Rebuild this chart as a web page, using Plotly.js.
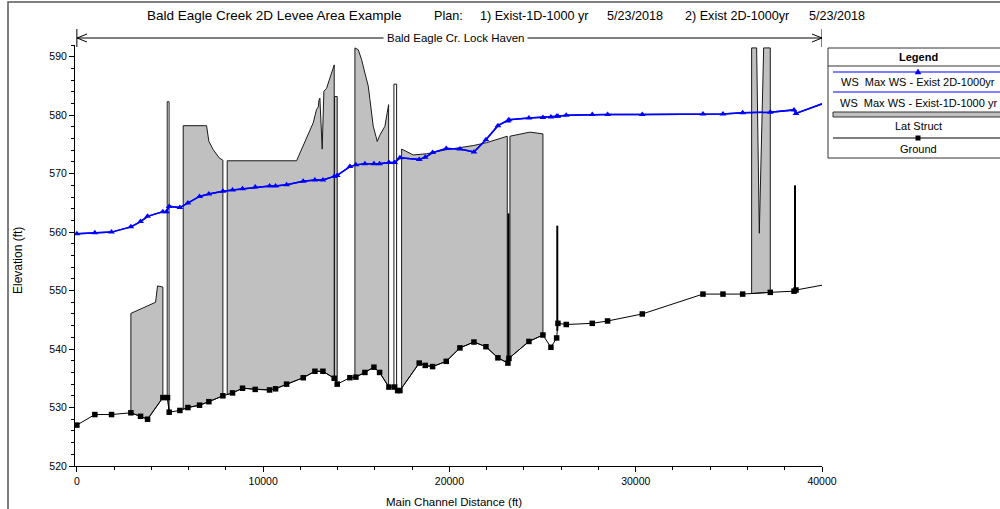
<!DOCTYPE html>
<html>
<head>
<meta charset="utf-8">
<script src="https://cdn.plot.ly/plotly-3.0.1.min.js"></script>
<style>html,body{margin:0;padding:0;background:#fff;}#chart{width:1000px;height:509px;}</style>
</head>
<body>
<div id="chart"></div>
<script>
// ---------------- data ----------------
const groundX = [0, 966, 1862, 2900, 3420, 3795, 4617, 4867, 4957, 5530, 5960, 6586, 7087, 7839, 8357, 8894, 9574, 10344, 10667, 11257, 12152, 12778, 13208, 13815, 13976, 14657, 14979, 15462, 15946, 16250, 16751, 17057, 17218, 17342, 18378, 18700, 19097, 19828, 20563, 21315, 21959, 22603, 23140, 23194, 24267, 25019, 25449, 25755, 25825, 26271, 27667, 28490, 30353, 33610, 34684, 35741, 37224, 38497, 38604, 41000];
const groundY = [527.0, 528.8, 528.8, 529.1, 528.5, 528.0, 531.7, 531.7, 529.2, 529.5, 530.0, 530.4, 531.0, 532.0, 532.5, 533.3, 533.1, 533.0, 533.2, 534.0, 535.1, 536.2, 536.2, 535.0, 534.0, 535.1, 535.2, 536.0, 536.9, 536.0, 533.5, 533.5, 532.9, 532.9, 537.6, 537.2, 537.0, 537.9, 540.2, 541.2, 540.4, 538.5, 537.6, 538.4, 541.3, 542.4, 540.3, 541.9, 544.4, 544.2, 544.4, 544.8, 546.0, 549.4, 549.4, 549.4, 549.7, 549.9, 550.1, 551.5];

const wsX = [0, 966, 1862, 2900, 3420, 3795, 4617, 4814, 4957, 5530, 5960, 6586, 7087, 7839, 8357, 8894, 9574, 10344, 10667, 11257, 12152, 12778, 13208, 13815, 13976, 14657, 14979, 15462, 15946, 16250, 16751, 17057, 17342, 18378, 18700, 19097, 19828, 20563, 21315, 21959, 22603, 23140, 23194, 24267, 25019, 25449, 25755, 25825, 26271, 27667, 28490, 30353, 33610, 34684, 35741, 37224, 38497, 38604, 41000];
const ws2dY = [559.7, 559.9, 560.0, 560.9, 561.8, 562.7, 563.5, 563.5, 564.4, 564.2, 565.0, 566.1, 566.5, 567.0, 567.2, 567.4, 567.7, 567.9, 567.9, 568.1, 568.7, 568.9, 568.9, 569.5, 569.7, 571.2, 571.5, 571.7, 571.7, 571.7, 571.9, 571.9, 572.7, 572.4, 572.8, 573.6, 574.3, 574.2, 573.7, 575.8, 578.2, 579.0, 579.2, 579.5, 579.6, 579.7, 579.8, 579.8, 580.0, 580.1, 580.1, 580.1, 580.2, 580.2, 580.4, 580.5, 580.9, 580.3, 583.1];
const ws1dY = ws2dY.slice();

// lateral structure top profiles
const lat1X = [2900, 4224, 4331, 4617];
const lat1Y = [546.1, 548.0, 550.8, 550.6];
const lat2X = [4850, 4950];
const lat2Y = [582.3, 582.3];
const lat3X = [5709, 6962, 7087, 7320, 7640, 7839];
const lat3Y = [578.2, 578.2, 575.5, 574.1, 572.7, 572.3];
const lat4X = [8070, 11794, 11973, 12331, 12689, 12868, 12960, 13000, 13046, 13170, 13261, 13406, 13583, 13798, 13815];
const lat4Y = [572.2, 572.2, 573.5, 576.4, 578.7, 581.0, 581.4, 582.6, 582.9, 574.2, 584.1, 584.6, 586.4, 588.6, 588.6];
const lat5X = [13830, 13976];
const lat5Y = [583.2, 583.2];
const lat6X = [14926, 15103, 15286, 15463, 15640, 15731, 15909, 16054, 16123, 16268, 16537, 16660, 16735];
const lat6Y = [591.5, 591.2, 589.5, 587.2, 585.0, 582.7, 578.1, 576.4, 575.5, 576.6, 578.1, 580.4, 581.8];
const lat7X = [17020, 17165];
const lat7Y = [585.3, 585.3];
const lat8X = [17433, 18056, 18775, 19848, 20563, 21279, 21998, 23104];
const lat8Y = [574.2, 573.2, 573.4, 574.1, 574.4, 574.8, 575.3, 576.4];
const lat9X = [23248, 24320, 25019];
const lat9Y = [576.4, 577.1, 576.8];
const lat10X = [36223, 36491, 36634, 36868, 37224];
const lat10Y = [591.5, 591.5, 559.8, 591.5, 591.5];
// zero-width lateral structures (vertical lines)
const latLineX = [23170, 25790, 38550];
const latLineTop = [563.2, 561.1, 568.0];

const xTicks = [0, 10000, 20000, 30000, 40000];
const yTicks = [520, 530, 540, 550, 560, 570, 580, 590];

const titleParts = ["Bald Eagle Creek 2D Levee Area Example", "Plan:", "1) Exist-1D-1000 yr", "5/23/2018", "2) Exist 2D-1000yr", "5/23/2018"];
const reachLabel = "Bald Eagle Cr. Lock Haven";
const legendLabels = ["WS  Max WS - Exist 2D-1000yr", "WS  Max WS - Exist-1D-1000 yr", "Lat Struct", "Ground"];

// ---------------- helpers ----------------
function gAt(x) {
  for (let i = 0; i < groundX.length - 1; i++) {
    if (x >= groundX[i] && x <= groundX[i + 1]) {
      const t = (x - groundX[i]) / (groundX[i + 1] - groundX[i]);
      return groundY[i] + t * (groundY[i + 1] - groundY[i]);
    }
  }
  return groundY[groundY.length - 1];
}
function poly(tx, ty) {
  const x0 = tx[0], x1 = tx[tx.length - 1];
  const xs = [x0].concat(tx, [x1]);
  const ys = [gAt(x0)].concat(ty, [gAt(x1)]);
  for (let i = groundX.length - 1; i >= 0; i--) {
    if (groundX[i] < x1 && groundX[i] > x0) { xs.push(groundX[i]); ys.push(groundY[i]); }
  }
  xs.push(x0); ys.push(gAt(x0));
  return {x: xs, y: ys};
}

const FONT = "Liberation Sans, Arial, sans-serif";
const L = 75, R = 178, T = 45, B = 43;
const PW = 1000 - L - R, PH = 509 - T - B;
const X = px => (px - L) / PW;
const Y = py => (509 - B - py) / PH;

const traces = [];
const lats = [[lat1X, lat1Y, '#c0c0c0'], [lat2X, lat2Y, '#ffffff'], [lat3X, lat3Y, '#c0c0c0'], [lat4X, lat4Y, '#c0c0c0'],
  [lat5X, lat5Y, '#c0c0c0'], [lat6X, lat6Y, '#c0c0c0'], [lat7X, lat7Y, '#ffffff'], [lat8X, lat8Y, '#c0c0c0'],
  [lat9X, lat9Y, '#c0c0c0'], [lat10X, lat10Y, '#c0c0c0']];
lats.forEach(([tx, ty, fc]) => {
  const p = poly(tx, ty);
  traces.push({type: 'scatter', mode: 'lines', x: p.x, y: p.y, fill: 'toself', fillcolor: fc,
    line: {color: '#1a1a1a', width: 1}, hoverinfo: 'skip', showlegend: false});
});
latLineX.forEach((lx, i) => {
  traces.push({type: 'scatter', mode: 'lines', x: [lx, lx], y: [gAt(lx), latLineTop[i]],
    line: {color: '#000', width: 2}, hoverinfo: 'skip', showlegend: false});
});
traces.push({type: 'scatter', mode: 'lines+markers', x: groundX, y: groundY, name: 'Ground',
  line: {color: '#000', width: 1}, marker: {symbol: 'square', size: 5.5, color: '#000'}, showlegend: false});
traces.push({type: 'scatter', mode: 'lines', x: wsX, y: ws1dY, name: legendLabels[1],
  line: {color: '#0000ff', width: 1.5}, showlegend: false});
traces.push({type: 'scatter', mode: 'lines+markers', x: wsX, y: ws2dY, name: legendLabels[0],
  line: {color: '#0000ff', width: 1.5}, marker: {symbol: 'triangle-up', size: 6, color: '#0000ff'}, showlegend: false});

// ---------------- annotations & shapes ----------------
const ann = [];
const shapes = [];
const titleLeft = [145, 432, 478, 605, 683, 807];
titleParts.forEach((t, i) => ann.push({text: t, xref: 'paper', yref: 'paper', x: X(titleLeft[i]), y: Y(16),
  xanchor: 'left', yanchor: 'middle', showarrow: false, font: {family: FONT, size: i === 0 ? 13.5 : 12.6, color: '#000'}}));

// reach arrow
const ay = Y(38);
shapes.push({type: 'line', xref: 'x', yref: 'paper', x0: 0, x1: 40000, y0: ay, y1: ay, line: {color: '#000', width: 1}});
shapes.push({type: 'line', xref: 'x', yref: 'paper', x0: 0, x1: 0, y0: Y(29), y1: Y(47), line: {color: '#000', width: 1}});
shapes.push({type: 'line', xref: 'x', yref: 'paper', x0: 40000, x1: 40000, y0: Y(29), y1: Y(47), line: {color: '#000', width: 1}});
shapes.push({type: 'path', xref: 'paper', yref: 'paper',
  path: `M ${X(87)} ${Y(34)} L ${X(77)} ${Y(38)} L ${X(87)} ${Y(42)}`, line: {color: '#000', width: 1}});
shapes.push({type: 'path', xref: 'paper', yref: 'paper',
  path: `M ${X(812)} ${Y(34)} L ${X(822)} ${Y(38)} L ${X(812)} ${Y(42)}`, line: {color: '#000', width: 1}});
ann.push({text: reachLabel, xref: 'paper', yref: 'paper', x: X(455), y: ay, xanchor: 'center', yanchor: 'middle',
  showarrow: false, bgcolor: '#fff', borderpad: 3, font: {family: FONT, size: 11.5, color: '#000'}});

// axis titles
ann.push({text: 'Main Channel Distance (ft)', xref: 'paper', yref: 'paper', x: X(454), y: Y(502), xanchor: 'center', yanchor: 'middle',
  showarrow: false, font: {family: FONT, size: 11.5, color: '#000'}});
ann.push({text: 'Elevation (ft)', xref: 'paper', yref: 'paper', x: X(18), y: Y(260), xanchor: 'center', yanchor: 'middle',
  textangle: -90, showarrow: false, font: {family: FONT, size: 12, color: '#000'}});

// outer frame
shapes.push({type: 'rect', xref: 'paper', yref: 'paper', x0: X(8), x1: X(1010), y0: Y(2), y1: Y(520),
  line: {color: '#555', width: 1.5}, layer: 'below'});

// legend box
shapes.push({type: 'rect', xref: 'paper', yref: 'paper', x0: X(828), x1: X(1010), y0: Y(48), y1: Y(158),
  line: {color: '#333', width: 1}, fillcolor: '#fff'});
shapes.push({type: 'line', xref: 'paper', yref: 'paper', x0: X(828), x1: X(1010), y0: Y(66), y1: Y(66), line: {color: '#333', width: 1}});
shapes.push({type: 'line', xref: 'paper', yref: 'paper', x0: X(833), x1: X(1010), y0: Y(72), y1: Y(72), line: {color: '#0000ff', width: 1.2}});
shapes.push({type: 'path', xref: 'paper', yref: 'paper', path: `M ${X(915)} ${Y(74)} L ${X(918)} ${Y(69)} L ${X(921)} ${Y(74)} Z`,
  fillcolor: '#0000ff', line: {color: '#0000ff', width: 0.5}});
shapes.push({type: 'line', xref: 'paper', yref: 'paper', x0: X(833), x1: X(1010), y0: Y(92), y1: Y(92), line: {color: '#0000ff', width: 1.2}});
shapes.push({type: 'rect', xref: 'paper', yref: 'paper', x0: X(833), x1: X(1010), y0: Y(112), y1: Y(117),
  fillcolor: '#c0c0c0', line: {color: '#333', width: 1}});
shapes.push({type: 'line', xref: 'paper', yref: 'paper', x0: X(833), x1: X(1010), y0: Y(138), y1: Y(138), line: {color: '#000', width: 1}});
shapes.push({type: 'rect', xref: 'paper', yref: 'paper', x0: X(915.5), x1: X(920.5), y0: Y(135.5), y1: Y(140.5),
  fillcolor: '#000', line: {color: '#000', width: 0}});
ann.push({text: '<b>Legend</b>', xref: 'paper', yref: 'paper', x: X(918), y: Y(57), xanchor: 'center', yanchor: 'middle',
  showarrow: false, font: {family: FONT, size: 11, color: '#000'}});
[82, 103, 126, 149].forEach((py, i) => ann.push({text: legendLabels[i], xref: 'paper', yref: 'paper', x: X(918), y: Y(py),
  xanchor: 'center', yanchor: 'middle', showarrow: false, font: {family: FONT, size: 11, color: '#000'}}));

const layout = {
  width: 1000, height: 509,
  margin: {l: L, r: R, t: T, b: B, pad: 0},
  paper_bgcolor: '#fff', plot_bgcolor: '#fff',
  showlegend: false,
  xaxis: {range: [-100, 40000], tickmode: 'array', tickvals: xTicks, ticktext: xTicks.map(String),
    ticks: 'outside', ticklen: 5, tickcolor: '#000', showline: true, linecolor: '#000', linewidth: 1,
    showgrid: false, zeroline: false, tickfont: {family: FONT, size: 10.5, color: '#000'},
    minor: {dtick: 2000, tick0: 0, ticks: 'outside', ticklen: 3, tickcolor: '#000', showgrid: false}},
  yaxis: {range: [520, 592], tickmode: 'array', tickvals: yTicks, ticktext: yTicks.map(String),
    ticks: 'outside', ticklen: 5, tickcolor: '#000', showline: true, linecolor: '#000', linewidth: 1,
    showgrid: false, zeroline: false, tickfont: {family: FONT, size: 10.5, color: '#000'},
    minor: {dtick: 2, tick0: 520, ticks: 'outside', ticklen: 3, tickcolor: '#000', showgrid: false}},
  annotations: ann,
  shapes: shapes
};

Plotly.newPlot('chart', traces, layout, {displayModeBar: false, staticPlot: true});
</script>
</body>
</html>
